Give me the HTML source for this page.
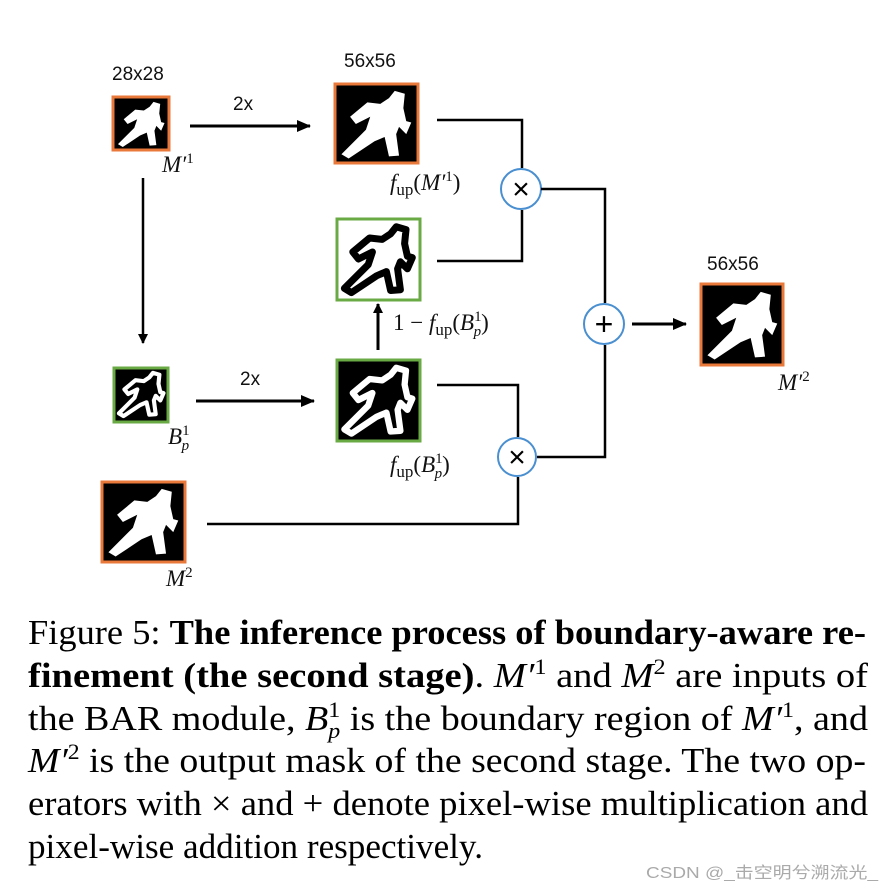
<!DOCTYPE html>
<html><head><meta charset="utf-8"><style>
html,body{margin:0;padding:0;background:#fff;}
svg{display:block;}
.s{font-family:"Liberation Sans",sans-serif;font-size:19px;fill:#111;}
.m{font-family:"Liberation Serif",serif;font-style:italic;font-size:23px;fill:#111;}
.r{font-family:"Liberation Serif",serif;font-size:23px;fill:#111;}
.c{font-family:"Liberation Serif",serif;font-size:35px;fill:#000;}
</style></head><body>
<svg width="894" height="892" viewBox="0 0 894 892" xmlns="http://www.w3.org/2000/svg">
<defs>
<path id="run" d="M14,40 L38,20 L56,22 L68,14 L76,4 L90,8 L88,28 L92,46 L99,48 L92,64 L82,54 L78,64 L82,94 L68,95 L62,68 L48,74 L12,98 L2,92 L36,58 L42,40 L22,50 Z"/>
<marker id="ah" markerWidth="10" markerHeight="10" refX="9" refY="5" orient="auto" markerUnits="userSpaceOnUse"><path d="M0,0 L10,5 L0,10 Z" fill="#000"/></marker>
<marker id="ah2" markerWidth="14" markerHeight="12" refX="13" refY="6" orient="auto" markerUnits="userSpaceOnUse"><path d="M0,0 L14,6 L0,12 Z" fill="#000"/></marker>
</defs>
<rect width="894" height="892" fill="#fff"/>
<text class="s" x="112" y="80">28x28</text>
<rect x="113" y="97" width="56" height="53" fill="#000" stroke="#e8793a" stroke-width="3"/>
<use href="#run" transform="translate(117,100) scale(0.48)" fill="#fff"/>
<text class="m" x="162" y="172">M′<tspan font-size="15" dy="-9" font-style="normal">1</tspan></text>
<text class="s" x="344" y="67">56x56</text>
<rect x="335" y="84" width="83" height="79" fill="#000" stroke="#e8793a" stroke-width="3"/>
<use href="#run" transform="translate(340,88) scale(0.72)" fill="#fff"/>
<text class="m" x="390" y="190">f<tspan font-style="normal" font-size="17" dy="5">up</tspan><tspan font-style="normal" dy="-5">(</tspan>M′<tspan font-size="15" dy="-9" font-style="normal">1</tspan><tspan font-style="normal" dy="9">)</tspan></text>
<text class="s" x="233" y="110">2x</text>
<line x1="190" y1="126" x2="310" y2="126" stroke="#000" stroke-width="3" marker-end="url(#ah2)"/>
<rect x="337" y="219" width="83" height="81" fill="#fff" stroke="#6aaa45" stroke-width="3"/>
<use href="#run" transform="translate(343,224) scale(0.70)" fill="none" stroke="#000" stroke-width="10" stroke-linejoin="round"/>
<text class="r" x="393" y="330">1 − <tspan font-style="italic">f</tspan><tspan font-size="17" dy="5">up</tspan><tspan dy="-5">(</tspan><tspan font-style="italic">B</tspan><tspan font-size="15" dy="-9">1</tspan><tspan font-size="15" font-style="italic" dx="-8" dy="15">p</tspan><tspan dy="-6">)</tspan></text>
<line x1="378" y1="350" x2="378" y2="304" stroke="#000" stroke-width="3" marker-end="url(#ah)"/>
<polyline points="437,120 522,120 522,168" fill="none" stroke="#000" stroke-width="2.5"/>
<polyline points="522,210 522,261 437,261" fill="none" stroke="#000" stroke-width="2.5"/>
<circle cx="521" cy="189" r="20" fill="#fff" stroke="#4a8fd0" stroke-width="2"/>
<text x="521" y="199" text-anchor="middle" font-family="Liberation Sans" font-size="30" fill="#000">×</text>
<polyline points="541,189 605,189 605,303" fill="none" stroke="#000" stroke-width="2.5"/>
<circle cx="604" cy="324" r="20" fill="#fff" stroke="#4a8fd0" stroke-width="2"/>
<text x="604" y="335" text-anchor="middle" font-family="Liberation Sans" font-size="32" fill="#000">+</text>
<polyline points="537,457 605,457 605,345" fill="none" stroke="#000" stroke-width="2.5"/>
<line x1="632" y1="324" x2="686" y2="324" stroke="#000" stroke-width="3" marker-end="url(#ah2)"/>
<text class="s" x="707" y="270">56x56</text>
<rect x="701" y="284" width="82" height="81" fill="#000" stroke="#e8793a" stroke-width="3"/>
<use href="#run" transform="translate(706,289) scale(0.72)" fill="#fff"/>
<text class="m" x="778" y="390">M′<tspan font-size="15" dy="-9" font-style="normal">2</tspan></text>
<line x1="143" y1="178" x2="143" y2="343" stroke="#000" stroke-width="2.5" marker-end="url(#ah)"/>
<rect x="114" y="368" width="54" height="54" fill="#000" stroke="#6aaa45" stroke-width="3"/>
<use href="#run" transform="translate(118,371) scale(0.46)" fill="none" stroke="#fff" stroke-width="9" stroke-linejoin="round"/>
<text class="m" x="168" y="444">B<tspan font-size="15" dy="-9" font-style="normal">1</tspan><tspan font-size="15" dx="-8" dy="15">p</tspan></text>
<text class="s" x="240" y="385">2x</text>
<line x1="196" y1="401" x2="314" y2="401" stroke="#000" stroke-width="3" marker-end="url(#ah2)"/>
<rect x="337" y="360" width="83" height="81" fill="#000" stroke="#6aaa45" stroke-width="3"/>
<use href="#run" transform="translate(343,365) scale(0.70)" fill="none" stroke="#fff" stroke-width="9" stroke-linejoin="round"/>
<text class="m" x="390" y="472">f<tspan font-style="normal" font-size="17" dy="5">up</tspan><tspan font-style="normal" dy="-5">(</tspan>B<tspan font-size="15" dy="-9" font-style="normal">1</tspan><tspan font-size="15" dx="-8" dy="15">p</tspan><tspan font-style="normal" dy="-6">)</tspan></text>
<polyline points="437,385 518,385 518,437" fill="none" stroke="#000" stroke-width="2.5"/>
<circle cx="517" cy="457" r="19" fill="#fff" stroke="#4a8fd0" stroke-width="2"/>
<text x="517" y="467" text-anchor="middle" font-family="Liberation Sans" font-size="30" fill="#000">×</text>
<polyline points="518,477 518,524 207,524" fill="none" stroke="#000" stroke-width="2.5"/>
<rect x="102" y="482" width="83" height="80" fill="#000" stroke="#e8793a" stroke-width="3"/>
<use href="#run" transform="translate(107,486) scale(0.72)" fill="#fff"/>
<text class="m" x="166" y="586">M<tspan font-size="15" dy="-9" font-style="normal">2</tspan></text>
<text class="c" x="28" y="644" textLength="838" lengthAdjust="spacingAndGlyphs">Figure 5: <tspan font-weight="bold">The inference process of boundary-aware re-</tspan></text>
<text class="c" x="28" y="687" textLength="840" lengthAdjust="spacingAndGlyphs"><tspan font-weight="bold">finement (the second stage)</tspan>.  <tspan font-style="italic">M′</tspan><tspan font-size="22" dy="-13">1</tspan><tspan dy="13"> and </tspan><tspan font-style="italic">M</tspan><tspan font-size="22" dy="-13">2</tspan><tspan dy="13"> are inputs of</tspan></text>
<text class="c" x="28" y="730" textLength="840" lengthAdjust="spacingAndGlyphs">the BAR module, <tspan font-style="italic">B</tspan><tspan font-size="22" dy="-13">1</tspan><tspan font-size="22" font-style="italic" dx="-11" dy="21">p</tspan><tspan dy="-8"> is the boundary region of </tspan><tspan font-style="italic">M′</tspan><tspan font-size="22" dy="-13">1</tspan><tspan dy="13">, and</tspan></text>
<text class="c" x="28" y="772" textLength="838" lengthAdjust="spacingAndGlyphs"><tspan font-style="italic">M′</tspan><tspan font-size="22" dy="-13">2</tspan><tspan dy="13"> is the output mask of the second stage.  The two op-</tspan></text>
<text class="c" x="28" y="815" textLength="840" lengthAdjust="spacingAndGlyphs">erators with × and + denote pixel-wise multiplication and</text>
<text class="c" x="28" y="858" textLength="455" lengthAdjust="spacingAndGlyphs">pixel-wise addition respectively.</text>
<text x="646" y="878" font-family="Liberation Sans, Noto Sans CJK SC, sans-serif" font-size="16" fill="#aaa" textLength="232" lengthAdjust="spacingAndGlyphs">CSDN @_击空明兮溯流光_</text>
</svg>
</body></html>
